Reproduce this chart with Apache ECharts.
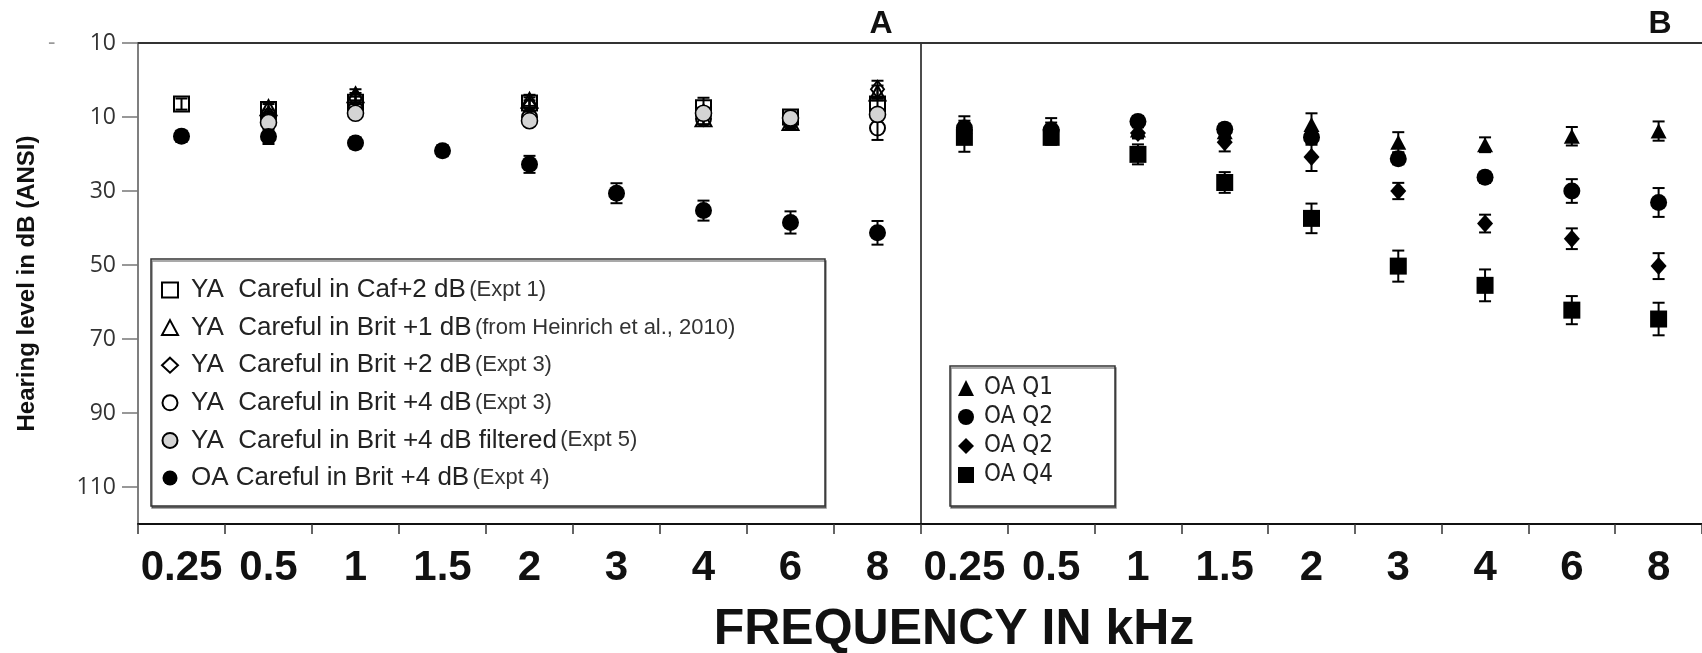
<!DOCTYPE html>
<html><head><meta charset="utf-8">
<script src="https://cdn.jsdelivr.net/npm/echarts@6/dist/echarts.min.js"></script>
<style>html,body{margin:0;padding:0;background:#fff}#c{width:1702px;height:653px}</style>
</head><body><div id="c"></div>
<script>
// ---------- data ----------
const freqLabels = ['0.25','0.5','1','1.5','2','3','4','6','8'];
const yTickValues = [-10, 10, 30, 50, 70, 90, 110];

// Panel A (hearing level, dB)
const yaCaf      = [6.5, 8, 6, null, 6.2, null, 7.5, 10, 6.5];
const yaCafErr   = [1.5, 1.5, 1.5, null, 1.5, null, 2.7, 1.5, 1.5];
const yaBrit1    = [null, 7.5, 4, null, 5.5, null, 10.5, 11.5, 3.5];
const yaBrit1Err = [null, 1.5, 1.5, null, 1.5, null, 1.5, 1.5, 2];
const yaBrit2    = [null, 9.5, 5, null, 7, null, 9, 10.5, 2.5];
const yaBrit2Err = [null, 1.5, 1.5, null, 1.5, null, 1.5, 1.5, 2.3];
const yaBrit4    = [null, 10.5, 8, null, 10, null, 10.5, 11, 13];
const yaBrit4Err = [null, 1.5, 1.5, null, 1.5, null, 1.5, 1.5, 3.2];
const yaBrit4f   = [null, 11.5, 9, null, 11, null, 9, 10.3, 9.3];
const yaBrit4fErr= [null, 1, 1, null, 1, null, 1, 1, 1];
const oaBrit4    = [15.2, 15.3, 17, 19.1, 22.8, 30.6, 35.3, 38.5, 41.3];
const oaBrit4Err = [1.5, 2, 1.5, 1.5, 2.3, 2.7, 2.7, 3, 3.2];

// Panel B
const oaQ1    = [12.5, 12.8, 13.5, 14, 12, 16.8, 17.5, 15.2, 13.8];
const oaQ1Err = [2.7, 2.5, 2, 2, 3, 2.7, 2, 2.5, 2.6];
const oaQ2    = [13, 13.5, 11.2, 13.3, 15.5, 21.3, 26.3, 30, 33.1];
const oaQ2Err = [2, 2, 1.5, 1.5, 2, 1.5, 1.5, 3.2, 3.9];
const oaQ2d   = [14.5, 14.5, 14.3, 16.8, 20.8, 30, 38.8, 42.9, 50.3];
const oaQ2dErr= [2, 2, 1.5, 2.5, 3.8, 2.2, 2.4, 2.8, 3.5];
const oaQ4    = [15.5, 15.5, 20.1, 27.7, 37.4, 50.3, 55.5, 62.2, 64.6];
const oaQ4Err = [3.9, 2, 2.7, 2.8, 4, 4.2, 4.3, 3.8, 4.4];

// legend texts
const legendAMain = ['YA  Careful in Caf+2 dB','YA  Careful in Brit +1 dB','YA  Careful in Brit +2 dB','YA  Careful in Brit +4 dB','YA  Careful in Brit +4 dB filtered','OA Careful in Brit +4 dB'];
const legendANote = ['(Expt 1)','(from Heinrich et al., 2010)','(Expt 3)','(Expt 3)','(Expt 5)','(Expt 4)'];
const legendBNames = ['OA Q1','OA Q2','OA Q2','OA Q4'];

// ---------- helpers ----------
function pts(arr){ const o=[]; arr.forEach((v,i)=>{ if(v!=null) o.push([i,v]); }); return o; }
function errPts(arr, err){ const o=[]; arr.forEach((v,i)=>{ if(v!=null && err[i]!=null) o.push([i,v,err[i]]); }); return o; }
function renderErr(params, api){
  const i = api.value(0), v = api.value(1), e = api.value(2);
  const p1 = api.coord([i, v - e]), p2 = api.coord([i, v + e]);
  const hw = 6, st = {stroke:'#000', lineWidth:2};
  return {type:'group', children:[
    {type:'line', shape:{x1:p1[0],y1:p1[1],x2:p2[0],y2:p2[1]}, style:st},
    {type:'line', shape:{x1:p1[0]-hw,y1:p1[1],x2:p1[0]+hw,y2:p1[1]}, style:st},
    {type:'line', shape:{x1:p2[0]-hw,y1:p2[1],x2:p2[0]+hw,y2:p2[1]}, style:st}
  ]};
}

const OPEN = {color:'rgba(255,255,255,0)', borderColor:'#000', borderWidth:2, opacity:1};
const FILL = {color:'#000', opacity:1};
const namesA = legendAMain.map((m,i)=> m + ' ' + legendANote[i]);
const namesB = legendBNames.map((n,i)=> n + ' '.repeat(i===2?1:0));

const defsA = [
  {vals:yaCaf, err:yaCafErr, symbol:'rect', size:15, st:OPEN},
  {vals:yaBrit1, err:yaBrit1Err, symbol:'triangle', size:[16,15], st:OPEN},
  {vals:yaBrit2, err:yaBrit2Err, symbol:'diamond', size:[13,17], st:OPEN},
  {vals:yaBrit4, err:yaBrit4Err, symbol:'circle', size:15, st:OPEN},
  {vals:yaBrit4f, err:yaBrit4fErr, symbol:'circle', size:16, st:{color:'#d4d4d4', borderColor:'#000', borderWidth:1.6, opacity:1}},
  {vals:oaBrit4, err:oaBrit4Err, symbol:'circle', size:17, st:FILL}
];
const defsB = [
  {vals:oaQ1, err:oaQ1Err, symbol:'triangle', size:[16,15], st:FILL},
  {vals:oaQ2, err:oaQ2Err, symbol:'circle', size:17, st:FILL},
  {vals:oaQ2d, err:oaQ2dErr, symbol:'diamond', size:[16,18], st:FILL},
  {vals:oaQ4, err:oaQ4Err, symbol:'rect', size:17, st:FILL}
];

const series = [];
function addSeries(defs, names, gi){
  defs.forEach((d,k)=>{
    series.push({type:'custom', name:names[k]+'_err', xAxisIndex:gi, yAxisIndex:gi, z:1,
      renderItem:renderErr, data:errPts(d.vals,d.err), silent:true, tooltip:{show:false}});
  });
  defs.forEach((d,k)=>{
    series.push({type:'scatter', name:names[k], xAxisIndex:gi, yAxisIndex:gi, z:3,
      symbol:d.symbol, symbolSize:d.size, itemStyle:d.st, data:pts(d.vals)});
  });
}
addSeries(defsA, namesA, 0);
addSeries(defsB, namesB, 1);

const AX = '"Liberation Sans", Arial, sans-serif';
const LEG = '"Liberation Sans", Arial, sans-serif';
const LEGN = '"Liberation Sans Narrow", "DejaVu Sans Condensed", "Liberation Sans", sans-serif';
const YF = '"Open Sans", "Noto Sans", sans-serif';

function xCat(gi){
  return {type:'category', gridIndex:gi, data:freqLabels, position:'bottom', boundaryGap:true,
    axisLine:{onZero:false, lineStyle:{color:'#111', width:2}},
    axisTick:{show:true, interval:0, length:10, lineStyle:{color:'#333', width:1.5}},
    axisLabel:{interval:0, margin:23, fontFamily:AX, fontWeight:'bold', fontSize:42, color:'#111'},
    splitLine:{show:false}};
}
function xTop(gi){
  return {type:'category', gridIndex:gi, data:freqLabels, position:'top', boundaryGap:true,
    axisLine:{onZero:false, lineStyle:{color:'#333', width:2}},
    axisTick:{show:false}, axisLabel:{show:false}, splitLine:{show:false}};
}

const option = {
  animation:false,
  backgroundColor:'#fff',
  grid:[
    {left:138, top:43, width:783, height:481},
    {left:921, top:43, width:783, height:481}
  ],
  xAxis:[xCat(0), xCat(1), xTop(0), xTop(1)],
  yAxis:[
    {type:'value', gridIndex:0, inverse:true, min:-10, max:120, interval:20,
     name:'Hearing level in dB (ANSI)', nameLocation:'middle', nameRotate:90, nameGap:99,
     nameMoveOverlap:false,
     nameTextStyle:{fontFamily:AX, fontWeight:'bold', fontSize:24, color:'#111'},
     axisLine:{show:true, lineStyle:{color:'#555', width:1.5}},
     axisTick:{show:true, length:16, customValues:yTickValues, lineStyle:{color:'#777', width:1.5}},
     axisLabel:{customValues:yTickValues, margin:22, fontFamily:YF, fontSize:23, color:'#333',
       formatter:v => v === -10 ? '{d|-}{n|10}' : '{n|' + v + '}',
       rich:{d:{color:'#999', fontSize:23, fontFamily:YF, width:28, align:'left'},
             n:{color:'#333', fontSize:23, fontFamily:YF, width:40, align:'right'}}},
     splitLine:{show:false}},
    {type:'value', gridIndex:1, inverse:true, min:-10, max:120, interval:20,
     axisLine:{show:true, lineStyle:{color:'#111', width:1.5}},
     axisTick:{show:false}, axisLabel:{show:false}, splitLine:{show:false}}
  ],
  title:[
    {text:'FREQUENCY IN kHz', left:954, top:605, textAlign:'center', padding:0,
     textStyle:{fontFamily:AX, fontWeight:'bold', fontSize:50, color:'#111'}},
    {text:'A', left:881, top:8, textAlign:'center', padding:0,
     textStyle:{fontFamily:AX, fontWeight:'bold', fontSize:32, color:'#111'}},
    {text:'B', left:1660, top:8, textAlign:'center', padding:0,
     textStyle:{fontFamily:AX, fontWeight:'bold', fontSize:32, color:'#111'}}
  ],
  graphic:[
    {type:'rect', z:0, shape:{x:151, y:259, width:674, height:247},
     style:{fill:'#fff', stroke:'#333', lineWidth:1.5, shadowColor:'rgba(0,0,0,0.45)', shadowOffsetX:1, shadowOffsetY:2}},
    {type:'rect', z:0, shape:{x:950, y:366, width:165, height:140},
     style:{fill:'#fff', stroke:'#333', lineWidth:1.5, shadowColor:'rgba(0,0,0,0.45)', shadowOffsetX:1, shadowOffsetY:2}}
  ],
  legend:[
    {orient:'vertical', left:156, top:272, itemWidth:16, itemHeight:15, itemGap:11.6,
     selectedMode:false, data:namesA, z:5,
     formatter:n => { const i = namesA.indexOf(n); return '{m|' + legendAMain[i] + '} {s|' + legendANote[i] + '}'; },
     textStyle:{rich:{
       m:{fontFamily:LEG, fontSize:26, color:'#222', lineHeight:26, padding:[0,0,0,8]},
       s:{fontFamily:LEG, fontSize:22, color:'#333', lineHeight:26}}}},
    {orient:'vertical', left:953, top:371, itemWidth:16, itemHeight:16, itemGap:5,
     selectedMode:false, data:namesB, z:5,
     formatter:n => '{m|' + n.trim() + '}',
     textStyle:{rich:{m:{fontFamily:LEGN, fontSize:24, color:'#222', lineHeight:24, padding:[0,0,0,5]}}}}
  ],
  series:series
};
const chart = echarts.init(document.getElementById('c'));
chart.setOption(option);
</script>
</body></html>
